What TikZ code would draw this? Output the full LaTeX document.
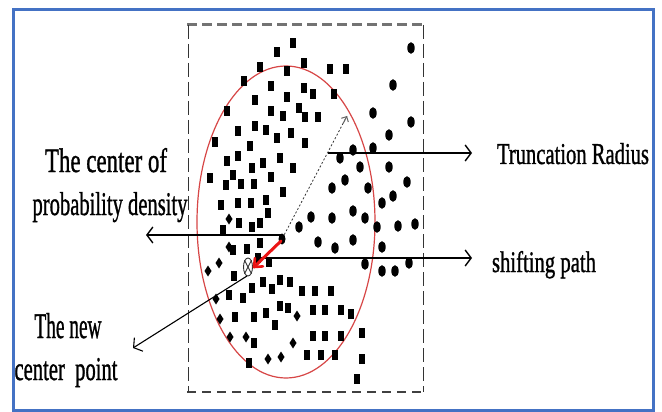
\documentclass[tikz,border=0pt]{standalone}
\usepackage{fontspec}
\setmainfont{Liberation Serif}
\newfontfamily\boldish[FakeBold=1.2]{Liberation Serif}
\usetikzlibrary{arrows.meta,shapes.geometric,calc}
\definecolor{frameblue}{RGB}{68,114,196}
\definecolor{redarrow}{RGB}{235,20,20}
\definecolor{ellred}{RGB}{215,70,70}
\begin{document}
\begin{tikzpicture}[x=1pt,y=-1pt,
  txt/.style={inner sep=0pt,outer sep=0pt,font=\boldish},
  conn/.style={line width=1.4pt,-{Straight Barb[length=6pt,width=16pt]}},
  dotnode/.style={ellipse,fill=black,inner sep=0pt,minimum width=7pt,minimum height=11pt},
  marker/.style={ellipse,draw=black!80,line width=0.9pt,inner sep=0pt,minimum width=9pt,minimum height=18pt}]
\useasboundingbox (0,0) rectangle (662,412);
\fill[white] (0,0) rectangle (662,412);
% frame
\draw[frameblue,line width=3pt] (13,10) rectangle (653,410);
% dashed box
\draw[black!55,line width=3pt,dash pattern=on 10pt off 5pt] (187,25) -- (423,25);
\draw[black!75,line width=2pt,dash pattern=on 9pt off 6pt] (187,392) -- (423,392);
\draw[black!80,line width=1pt,dash pattern=on 14pt off 5pt] (188,25) -- (188,392);
\draw[black!80,line width=1pt,dash pattern=on 14pt off 5pt] (423,25) -- (423,392);
% ellipse
\draw[ellred,line width=1.2pt] (286,222) ellipse (89 and 156);
% squares
\foreach \x/\y in {293/43,277/52,260/67,304/63,287/71,330/69,346/69,244/81,271/86,304/88,313/94,334/94,287/97,255/100,227/111,271/111,299/108,283/116,305/117,318/117,255/126,266/130,238/131,291/133,277/138,215/142,250/146,305/143,238/156,227/161,280/158,263/163,252/168,293/168,210/178,233/175,226/185,241/184,254/184,271/177,283/192,238/203,251/203,266/200,221/205,268/213,239/223,252/227,260/223,223/230,260/243,233/250,247/249,258/258,269/262,234/276,252/288,263/282,272/289,280/280,290/282,302/291,315/291,331/291,229/295,243/298,266/313,280/306,288/308,313/310,325/310,341/310,351/314,235/317,254/317,275/325,362/333,313/336,325/336,341/336,254/343,307/355,321/355,335/355,362/359,249/363,357/379}
  \fill (\x-3,\y-5.3) rectangle (\x+3,\y+5.3);
% circles
\foreach \x/\y in {411/48,393/85,373/113,411/122,389/135,353/150,373/148,340/158,360/167,389/167,345/180,407/182,332/188,368/188,393/196,382/203,353/211,311/217,299/227,332/218,365/218,377/227,398/226,415/224,318/242,335/248,353/240,382/247,365/264,382/271,395/271,409/263}
  \fill (\x,\y) ellipse (3.7 and 5.8);
% diamonds
\foreach \x/\y in {229/219,229/247,219/263,208/271,216/299,220/319,297/316,230/337,246/337,293/343,268/359,281/357}
  \fill (\x,\y-5.5) -- (\x+3.5,\y) -- (\x,\y+5.5) -- (\x-3.5,\y) -- cycle;
% key points
\node[dotnode] (cpd) at (282,239) {};
\node[marker,fill=white] (ncp) at (248,267) {};
\draw[black!80,line width=0.9pt] (ncp.north west) -- (ncp.south east) (ncp.north east) -- (ncp.south west);
% texts
\node[txt,anchor=base] (cp1) at (106,172) {\resizebox{122pt}{24pt}{The center of}};
\node[txt,anchor=base] (cp2) at (110,215) {\resizebox{155pt}{23pt}{probability density}};
\node[txt,anchor=base west] (tr) at (497,164) {\resizebox{152pt}{21pt}{Truncation Radius}};
\node[txt,anchor=base west] (sp) at (492,272) {\resizebox{104pt}{21pt}{shifting path}};
\node[txt,anchor=base] (nc1) at (68,338) {\resizebox{67pt}{25pt}{The new}};
\node[txt,anchor=base] (nc2) at (66,380) {\resizebox{103pt}{22pt}{center~ point}};
% connector coordinates
\coordinate (trs) at (328,153);
\coordinate (tre) at (472,153);
\coordinate (sps) at (256,258);
\coordinate (spe) at (472,258);
\coordinate (cps) at (281,235);
\coordinate (cpe) at (146,235);
\coordinate (ncs) at (247,276);
\coordinate (nce) at (133,348);
\coordinate (rtip) at (347,116);
\coordinate (rs) at (281,241);
\coordinate (re) at (254,267);
% connectors
\draw[conn] (trs) -- (tre);
\draw[conn] (sps) -- (spe);
\draw[conn] (cps) -- (cpe);
\draw[conn,line width=1.1pt] (ncs) -- (nce);
\draw[black!80,line width=0.8pt,dash pattern=on 2pt off 2pt] (cpd) -- (rtip);
\draw[black!60,line width=1pt,-{Straight Barb[length=4pt,width=8pt]}] ($(rtip)!0.06!(cpd)$) -- (rtip);
\draw[redarrow,line width=3pt,line cap=round] (rs) -- (re);
\draw[redarrow,line width=2.6pt,line cap=round,line join=round] ($(re)!9pt!40:(rs)$) -- (re) -- ($(re)!9pt!-40:(rs)$);
\end{tikzpicture}
\end{document}
